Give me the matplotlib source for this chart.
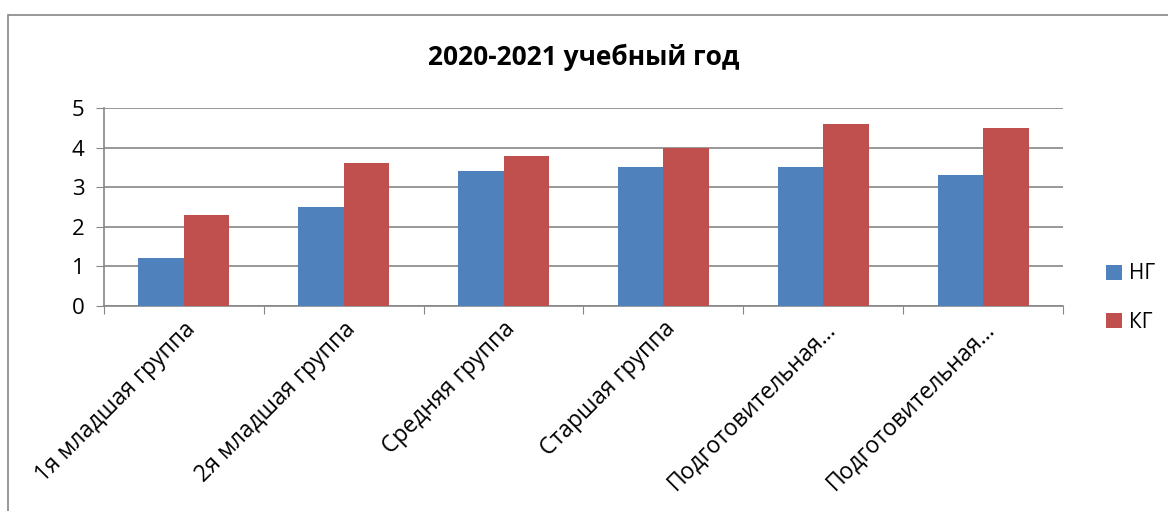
import matplotlib
matplotlib.use("Agg")
import matplotlib.pyplot as plt
from matplotlib.patches import Rectangle
import numpy as np

categories = ["1я младшая группа", "2я младшая группа", "Средняя группа",
              "Старшая группа", "Подготовительная…", "Подготовительная…"]
ng = [1.2, 2.5, 3.4, 3.5, 3.5, 3.3]
kg = [2.3, 3.6, 3.8, 4.0, 4.6, 4.5]
series_names = ["НГ", "КГ"]
title = "2020-2021 учебный год"

plt.rcParams['font.family'] = ['Open Sans', 'DejaVu Sans']

W, H = 1168, 511
fig = plt.figure(figsize=(W/100, H/100), dpi=100)
ax = fig.add_axes([104/W, 1-306/H, (1063-104)/W, (306-108)/H])

x = np.arange(len(categories))
bw = 0.285
ax.bar(x - bw/2, ng, bw, color="#4F81BD", label=series_names[0], zorder=3)
ax.bar(x + bw/2, kg, bw, color="#C0504D", label=series_names[1], zorder=3)

ax.set_xlim(-0.5, len(categories) - 0.5)
ax.set_ylim(0, 5)
ax.set_yticks(range(0, 6))
ax.grid(axis='y', color="#868686", linewidth=1.2, zorder=0)
for s in ["top", "right"]:
    ax.spines[s].set_visible(False)
for s in ["left", "bottom"]:
    ax.spines[s].set_color("#868686")
    ax.spines[s].set_linewidth(1.2)
ax.tick_params(axis='y', length=6, color="#868686", labelsize=16, pad=8)
ax.set_xticks(np.arange(-0.5, len(categories)), minor=False)
ax.set_xticklabels([])
ax.tick_params(axis='x', which='major', length=6, color="#868686")
ax.set_xticks(x, minor=True)
ax.set_xticklabels(categories, minor=True, rotation=45, ha='right',
                   rotation_mode='anchor', fontsize=16.5)
ax.tick_params(axis='x', which='minor', length=0, pad=8)

fig.text(0.5, 1-57/H, title, ha='center', va='center', fontsize=19, fontweight='bold')

leg = fig.legend(loc='center left', bbox_to_anchor=(1106/W, 1-298/H), frameon=False,
                 fontsize=15, handlelength=0.75, handleheight=0.75,
                 labelspacing=1.3, handletextpad=0.35, borderaxespad=0, borderpad=0)

fig.patches.append(Rectangle((8/W, -0.1), 1.2, 1-15/H + 0.1, transform=fig.transFigure,
                             fill=False, edgecolor="#868686", linewidth=1.2))

fig.savefig("out.png", dpi=100)
